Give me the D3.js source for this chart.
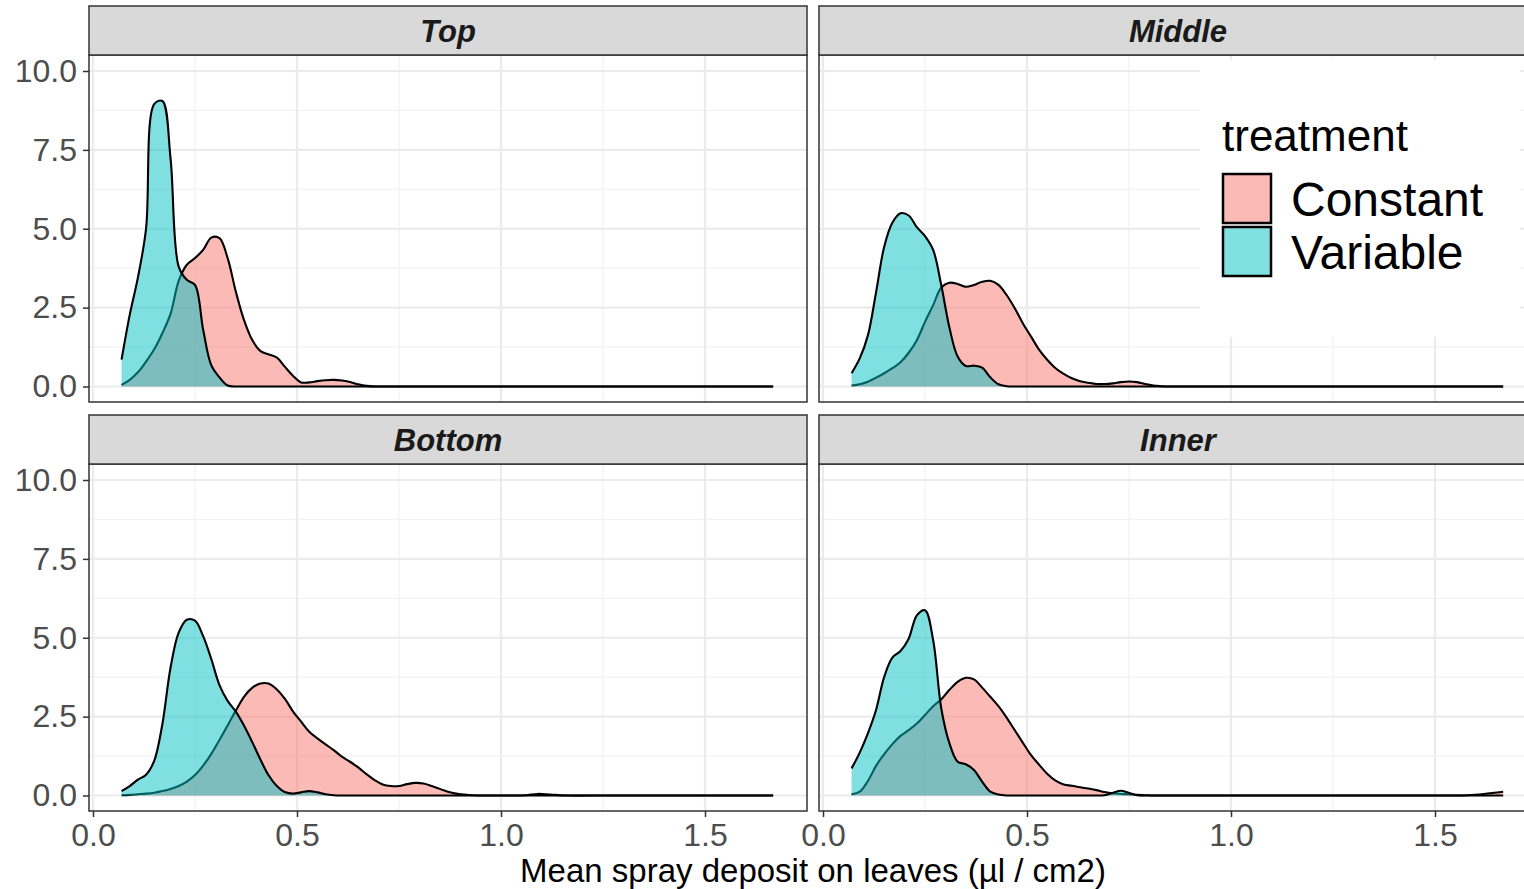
<!DOCTYPE html>
<html>
<head>
<meta charset="utf-8">
<title>Spray deposit densities</title>
<script src="https://cdn.jsdelivr.net/npm/d3@7/dist/d3.min.js"></script>
<style>
  body { margin: 0; background: #fff; }
  svg { display: block; font-family: "Liberation Sans", Arial, Helvetica, sans-serif; }
</style>
</head>
<body>
<div id="main"></div>
<script>
// facet panels and fill groups
var facets = ['Top', 'Middle', 'Bottom', 'Inner'];
var treatments = ['Constant', 'Variable'];
var fillColors = ['#F8766D', '#00BFC4'];

var deposit = [0.07, 0.09, 0.11, 0.13, 0.15, 0.17, 0.19, 0.21, 0.23, 0.25, 0.27, 0.29, 0.31, 0.33, 0.35,
  0.37, 0.39, 0.41, 0.43, 0.45, 0.47, 0.49, 0.51, 0.53, 0.55, 0.57, 0.59, 0.61, 0.63, 0.65,
  0.67, 0.69, 0.71, 0.73, 0.75, 0.77, 0.79, 0.81, 0.83, 0.85, 0.87, 0.89, 0.91, 0.93,
  0.97, 1.02, 1.06, 1.09, 1.12, 1.16, 1.25, 1.35, 1.45, 1.54, 1.58, 1.62, 1.667];

// density values, one array per facet and treatment
var topConstant = [0.05, 0.21, 0.45, 0.79, 1.18, 1.69, 2.30, 3.35, 3.86, 4.07, 4.33, 4.72, 4.70, 4.07, 3.01,
  2.11, 1.48, 1.13, 1.02, 0.92, 0.63, 0.34, 0.13, 0.13, 0.17, 0.20, 0.21, 0.19, 0.14, 0.07,
  0.02, 0, 0, 0, 0, 0, 0, 0, 0, 0, 0, 0, 0, 0,
  0, 0, 0, 0, 0, 0, 0, 0, 0, 0, 0, 0, 0];
var topVariable = [0.85, 2.27, 3.45, 5.00, 8.95, 9.05, 7.24, 3.80, 3.38, 3.22, 1.80, 0.67, 0.29, 0.03, 0,
  0, 0, 0, 0, 0, 0, 0, 0, 0, 0, 0, 0, 0, 0, 0,
  0, 0, 0, 0, 0, 0, 0, 0, 0, 0, 0, 0, 0, 0,
  0, 0, 0, 0, 0, 0, 0, 0, 0, 0, 0, 0, 0];
var middleConstant = [0.03, 0.07, 0.15, 0.28, 0.42, 0.58, 0.77, 1.07, 1.47, 2.05, 2.58, 3.14, 3.29, 3.25, 3.16,
  3.22, 3.32, 3.35, 3.22, 2.90, 2.48, 2.00, 1.58, 1.16, 0.84, 0.58, 0.40, 0.26, 0.17, 0.12,
  0.08, 0.08, 0.10, 0.14, 0.16, 0.14, 0.08, 0.03, 0.01, 0, 0, 0, 0, 0,
  0, 0, 0, 0, 0, 0, 0, 0, 0, 0, 0, 0, 0];
var middleVariable = [0.42, 0.89, 1.62, 2.98, 4.43, 5.19, 5.49, 5.42, 5.05, 4.77, 4.33, 3.20, 1.86, 0.95, 0.65,
  0.66, 0.60, 0.29, 0.07, 0.01, 0, 0, 0, 0, 0, 0, 0, 0, 0, 0,
  0, 0, 0, 0, 0, 0, 0, 0, 0, 0, 0, 0, 0, 0,
  0, 0, 0, 0, 0, 0, 0, 0, 0, 0, 0, 0, 0];
var bottomConstant = [0.01, 0.02, 0.04, 0.06, 0.09, 0.14, 0.21, 0.30, 0.44, 0.65, 0.95, 1.32, 1.76, 2.22, 2.69,
  3.13, 3.41, 3.55, 3.55, 3.37, 3.07, 2.67, 2.34, 2.02, 1.81, 1.62, 1.44, 1.23, 1.07, 0.89,
  0.68, 0.49, 0.35, 0.30, 0.30, 0.36, 0.40, 0.38, 0.30, 0.21, 0.12, 0.06, 0.03, 0.01,
  0, 0, 0.01, 0.05, 0.03, 0, 0, 0, 0, 0, 0, 0, 0];
var bottomVariable = [0.14, 0.30, 0.50, 0.66, 1.10, 2.26, 4.05, 5.16, 5.57, 5.54, 5.05, 4.32, 3.50, 3.00, 2.66,
  2.22, 1.70, 1.15, 0.65, 0.31, 0.11, 0.06, 0.10, 0.14, 0.10, 0.04, 0.01, 0, 0, 0,
  0, 0, 0, 0, 0, 0, 0, 0, 0, 0, 0, 0, 0, 0,
  0, 0, 0, 0, 0, 0, 0, 0, 0, 0, 0, 0, 0];
var innerConstant = [0.04, 0.12, 0.46, 0.94, 1.31, 1.63, 1.89, 2.07, 2.28, 2.55, 2.83, 3.05, 3.35, 3.60, 3.73,
  3.68, 3.42, 3.13, 2.83, 2.47, 2.07, 1.67, 1.28, 0.97, 0.68, 0.47, 0.35, 0.31, 0.26, 0.22,
  0.17, 0.11, 0.07, 0.05, 0.04, 0.02, 0.01, 0, 0, 0, 0, 0, 0, 0,
  0, 0, 0, 0, 0, 0, 0, 0, 0, 0, 0.01, 0.05, 0.12];
var innerVariable = [0.86, 1.36, 1.97, 2.71, 3.76, 4.37, 4.58, 4.97, 5.71, 5.87, 4.92, 2.75, 1.65, 1.07, 0.99,
  0.81, 0.44, 0.12, 0.03, 0, 0, 0, 0, 0, 0, 0, 0, 0, 0, 0,
  0, 0.01, 0.08, 0.15, 0.08, 0.01, 0, 0, 0, 0, 0, 0, 0, 0,
  0, 0, 0, 0, 0, 0, 0, 0, 0, 0, 0, 0, 0];

var densities = {
  Top: [topConstant, topVariable],
  Middle: [middleConstant, middleVariable],
  Bottom: [bottomConstant, bottomVariable],
  Inner: [innerConstant, innerVariable]
};

var xTicks = [0, 0.5, 1.0, 1.5];
var yTicks = [0, 2.5, 5.0, 7.5, 10.0];
var xMinor = [0.25, 0.75, 1.25];
var yMinor = [1.25, 3.75, 6.25, 8.75];
var xTitle = 'Mean spray deposit on leaves (\u00b5l / cm2)';
var legendTitle = 'treatment';

// layout
var svgWidth = 1524, svgHeight = 889;
var panelW = 718, panelH = 347, stripH = 49;
var colX = [89, 819];
var rowY = [6, 415];

var x = d3.scaleLinear().domain([-0.0098, 1.75]).range([0, panelW]);
var y = d3.scaleLinear().domain([-0.491, 10.507]).range([panelH, 0]);

var svg = d3.select('#main').append('svg')
  .attr('width', svgWidth)
  .attr('height', svgHeight);

svg.append('rect').attr('width', svgWidth).attr('height', svgHeight).attr('fill', '#fff');

var area = d3.area()
  .x(function(d) { return x(d[0]); })
  .y0(y(0))
  .y1(function(d) { return y(d[1]); })
  .curve(d3.curveCatmullRom);
var line = d3.line()
  .x(function(d) { return x(d[0]); })
  .y(function(d) { return y(d[1]); })
  .curve(d3.curveCatmullRom);

facets.forEach(function(name, i) {
  var col = i % 2, row = Math.floor(i / 2);
  var g = svg.append('g')
    .attr('transform', 'translate(' + colX[col] + ',' + (rowY[row] + stripH) + ')');

  var clipId = 'clip' + i;
  g.append('clipPath').attr('id', clipId)
    .append('rect').attr('width', panelW).attr('height', panelH);

  var inner = g.append('g').attr('clip-path', 'url(#' + clipId + ')');

  // minor grid
  inner.selectAll('.ymin').data(yMinor).enter().append('line')
    .attr('x1', 0).attr('x2', panelW)
    .attr('y1', function(d) { return y(d); }).attr('y2', function(d) { return y(d); })
    .attr('stroke', '#f2f2f2').attr('stroke-width', 1.2);
  inner.selectAll('.xmin').data(xMinor).enter().append('line')
    .attr('y1', 0).attr('y2', panelH)
    .attr('x1', function(d) { return x(d); }).attr('x2', function(d) { return x(d); })
    .attr('stroke', '#f2f2f2').attr('stroke-width', 1.2);
  // major grid
  inner.selectAll('.ymaj').data(yTicks).enter().append('line')
    .attr('x1', 0).attr('x2', panelW)
    .attr('y1', function(d) { return y(d); }).attr('y2', function(d) { return y(d); })
    .attr('stroke', '#ebebeb').attr('stroke-width', 2.2);
  inner.selectAll('.xmaj').data(xTicks).enter().append('line')
    .attr('y1', 0).attr('y2', panelH)
    .attr('x1', function(d) { return x(d); }).attr('x2', function(d) { return x(d); })
    .attr('stroke', '#ebebeb').attr('stroke-width', 2.2);

  // density areas, Constant first then Variable on top
  treatments.forEach(function(t, k) {
    var pts = deposit.map(function(v, j) { return [v, densities[name][k][j]]; });
    inner.append('path').attr('d', area(pts))
      .attr('fill', fillColors[k]).attr('fill-opacity', 0.5);
    inner.append('path').attr('d', line(pts))
      .attr('fill', 'none').attr('stroke', '#000').attr('stroke-width', 2.1);
  });

  // panel border
  g.append('rect').attr('width', panelW).attr('height', panelH)
    .attr('fill', 'none').attr('stroke', '#333').attr('stroke-width', 1.5);

  // strip
  g.append('rect').attr('y', -stripH).attr('width', panelW).attr('height', stripH)
    .attr('fill', '#d9d9d9').attr('stroke', '#333').attr('stroke-width', 1.5);
  g.append('text')
    .attr('x', panelW / 2).attr('y', -stripH + 36)
    .attr('text-anchor', 'middle')
    .attr('font-size', 31).attr('font-weight', 'bold').attr('font-style', 'italic')
    .attr('fill', '#1a1a1a')
    .text(name);

  if (col === 0) {
    var ya = g.append('g').call(d3.axisLeft(y).tickValues(yTicks).tickSize(6).tickPadding(6)
      .tickFormat(d3.format('.1f')));
    ya.select('.domain').remove();
    ya.selectAll('line').attr('stroke', '#333').attr('stroke-width', 1.5);
    ya.selectAll('text').attr('font-size', 32).attr('fill', '#4d4d4d')
      .attr('font-family', '"Liberation Sans", Arial, sans-serif');
  }
  if (row === 1) {
    var xa = g.append('g').attr('transform', 'translate(0,' + panelH + ')')
      .call(d3.axisBottom(x).tickValues(xTicks).tickSize(6).tickPadding(6)
        .tickFormat(d3.format('.1f')));
    xa.select('.domain').remove();
    xa.selectAll('line').attr('stroke', '#333').attr('stroke-width', 1.5);
    xa.selectAll('text').attr('font-size', 32).attr('fill', '#4d4d4d')
      .attr('font-family', '"Liberation Sans", Arial, sans-serif');
  }
});

// x axis title
svg.append('text')
  .attr('x', (colX[0] + colX[1] + panelW) / 2).attr('y', 882)
  .attr('text-anchor', 'middle').attr('font-size', 33).attr('fill', '#000')
  .text(xTitle);

// legend drawn inside the Middle panel
var legend = svg.append('g').attr('transform', 'translate(1200,60)');
legend.append('rect').attr('width', 320).attr('height', 277).attr('fill', '#fff');
legend.append('text').attr('x', 22).attr('y', 91)
  .attr('font-size', 44).attr('fill', '#000').text(legendTitle);
treatments.forEach(function(t, k) {
  var ky = 114 + k * 53;
  legend.append('rect').attr('x', 23).attr('y', ky).attr('width', 48).attr('height', 49)
    .attr('fill', fillColors[k]).attr('fill-opacity', 0.5)
    .attr('stroke', '#000').attr('stroke-width', 2.5);
  legend.append('text').attr('x', 91).attr('y', ky + 42)
    .attr('font-size', 48).attr('fill', '#000').text(t);
});
</script>
</body>
</html>
